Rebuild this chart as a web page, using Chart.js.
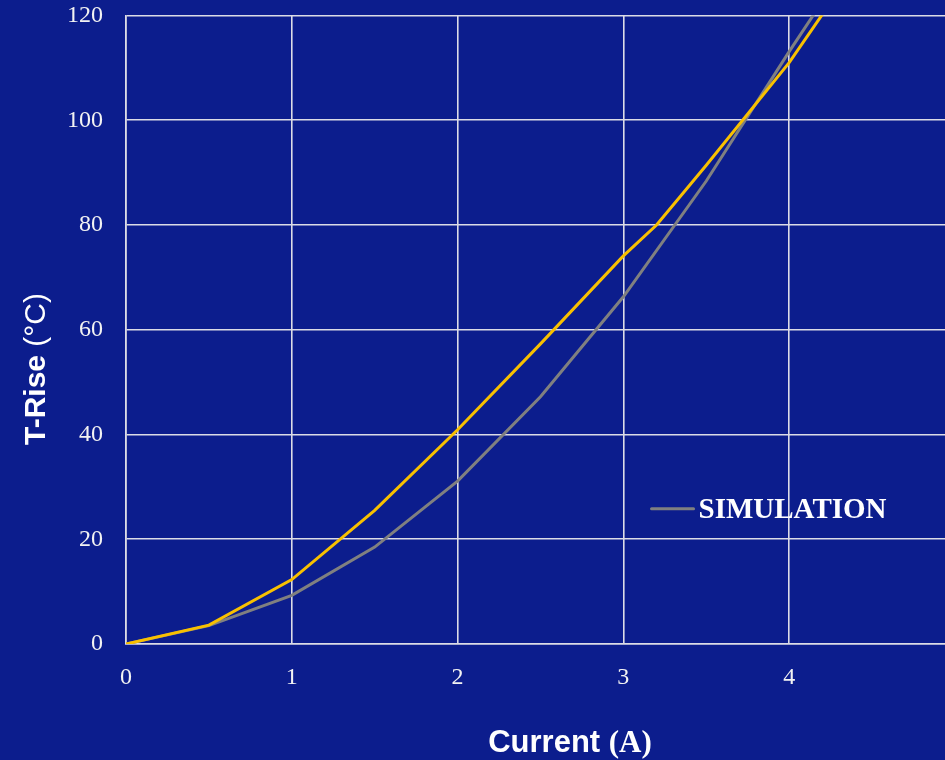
<!DOCTYPE html>
<html>
<head>
<meta charset="utf-8">
<script src="https://cdn.jsdelivr.net/npm/chart.js@4.4.1/dist/chart.umd.min.js"></script>
<style>
  html, body { margin: 0; padding: 0; background: #0C1D8D; }
  #wrap { width: 945px; height: 760px; position: relative; }
</style>
</head>
<body>
<div id="wrap"><canvas id="c" width="945" height="760"></canvas></div>
<script>
// ---- data ----
const measuredCurrent = [0, 0.5, 1, 1.5, 2, 2.5, 3, 3.2, 3.5, 4, 4.5];
const measuredRise    = [0, 3.6, 12.3, 25.5, 40.9, 57.3, 74.1, 80, 91.4, 111, 134];
const simCurrent      = [0, 0.5, 1, 1.5, 2, 2.5, 3, 3.5, 4, 4.5];
const simRise         = [0, 3.5, 9.3, 18.5, 31.1, 47.2, 66.3, 88.4, 113.1, 137];
const xTicks = [0, 1, 2, 3, 4];
const yTicks = [0, 20, 40, 60, 80, 100, 120];
const seriesLabels = ['MEASURED', 'SIMULATION'];
const xTitleMain = 'Current ', xTitleUnit = '(A)';
const yTitleMain = 'T-Rise ', yTitleUnit = '(°C)';

const BG = '#0C1D8D';
const GRID = '#DCDCE6';
const TEXT = '#F2F2F2';

const toPts = (xs, ys) => xs.map((x, i) => ({ x: x, y: ys[i] }));

const bgPlugin = {
  id: 'bg',
  beforeDraw(chart) {
    const ctx = chart.ctx;
    ctx.save();
    ctx.fillStyle = BG;
    ctx.fillRect(0, 0, chart.width, chart.height);
    ctx.restore();
  }
};

const titlesPlugin = {
  id: 'titles',
  afterDraw(chart) {
    const ctx = chart.ctx;
    const ca = chart.chartArea;
    ctx.save();
    ctx.fillStyle = '#FFFFFF';
    ctx.textBaseline = 'alphabetic';
    ctx.textAlign = 'left';
    // x title
    const f1 = 'bold 31px "Liberation Sans", Arial, sans-serif';
    const f2 = 'bold 31px "Liberation Serif", "Times New Roman", serif';
    ctx.font = f1; const w1 = ctx.measureText(xTitleMain).width;
    ctx.font = f2; const w2 = ctx.measureText(xTitleUnit).width;
    const cx = ca.left + 444;
    let sx = cx - (w1 + w2) / 2;
    const by = 752;
    ctx.font = f1; ctx.fillText(xTitleMain, sx, by);
    ctx.font = f2; ctx.fillText(xTitleUnit, sx + w1, by);
    // y title
    const g1 = 'bold 30px "Liberation Sans", Arial, sans-serif';
    const g2 = '30px "Liberation Sans", Arial, sans-serif';
    ctx.font = g1; const v1 = ctx.measureText(yTitleMain).width;
    ctx.font = g2; const v2 = ctx.measureText(yTitleUnit).width;
    ctx.translate(44.5, 369);
    ctx.rotate(-Math.PI / 2);
    const sy = -(v1 + v2) / 2;
    ctx.font = g1; ctx.fillText(yTitleMain, sy, 0);
    ctx.font = g2; ctx.fillText(yTitleUnit, sy + v1, 0);
    ctx.restore();
  }
};

const legendPlugin = {
  id: 'customLegend',
  afterDraw(chart) {
    const ctx = chart.ctx;
    const ds = chart.data.datasets[1];
    const xs = chart.scales.x, ys = chart.scales.y;
    const lx = xs.getPixelForValue(3.17);
    const ly = ys.getPixelForValue(25.8);
    ctx.save();
    ctx.strokeStyle = ds.borderColor;
    ctx.lineWidth = 3;
    ctx.lineCap = 'round';
    ctx.beginPath();
    ctx.moveTo(lx, ly);
    ctx.lineTo(lx + 42, ly);
    ctx.stroke();
    ctx.fillStyle = '#FFFFFF';
    ctx.font = 'bold 29px "Liberation Serif", "Times New Roman", serif';
    ctx.textBaseline = 'alphabetic';
    ctx.fillText(ds.label, lx + 47, ly + 9.5);
    ctx.restore();
  }
};

new Chart(document.getElementById('c'), {
  type: 'line',
  data: {
    datasets: [
      {
        label: seriesLabels[0],
        data: toPts(measuredCurrent, measuredRise),
        borderColor: '#F8C000',
        borderWidth: 3,
        pointRadius: 0,
        tension: 0,
        fill: false
      },
      {
        label: seriesLabels[1],
        data: toPts(simCurrent, simRise),
        borderColor: '#808080',
        borderWidth: 3,
        pointRadius: 0,
        tension: 0,
        fill: false
      }
    ]
  },
  options: {
    responsive: false,
    animation: false,
    devicePixelRatio: 1,
    layout: { padding: { top: 15.5, right: 0, bottom: 0, left: 0 } },
    plugins: {
      legend: { display: false },
      tooltip: { enabled: false }
    },
    scales: {
      x: {
        type: 'linear',
        min: 0,
        max: 4.94,
        afterBuildTicks(scale) { scale.ticks = xTicks.map(v => ({ value: v })); },
        afterFit(scale) { scale.height = 116; scale.paddingLeft = 0; scale.paddingRight = 0; },
        grid: { color: GRID, lineWidth: 1.6, drawTicks: false },
        border: { color: GRID, width: 1.6 },
        ticks: {
          color: TEXT,
          padding: 19,
          maxRotation: 0,
          font: { family: '"Liberation Serif", "Times New Roman", serif', size: 24 }
        }
      },
      y: {
        type: 'linear',
        min: 0,
        max: 120,
        afterBuildTicks(scale) { scale.ticks = yTicks.map(v => ({ value: v })); },
        afterFit(scale) { scale.width = 126; scale.paddingTop = 0; scale.paddingBottom = 0; },
        grid: { color: GRID, lineWidth: 1.6, drawTicks: false },
        border: { color: GRID, width: 1.6 },
        ticks: {
          color: TEXT,
          padding: 23,
          font: { family: '"Liberation Serif", "Times New Roman", serif', size: 24 }
        }
      }
    }
  },
  plugins: [bgPlugin, titlesPlugin, legendPlugin]
});
</script>
</body>
</html>
